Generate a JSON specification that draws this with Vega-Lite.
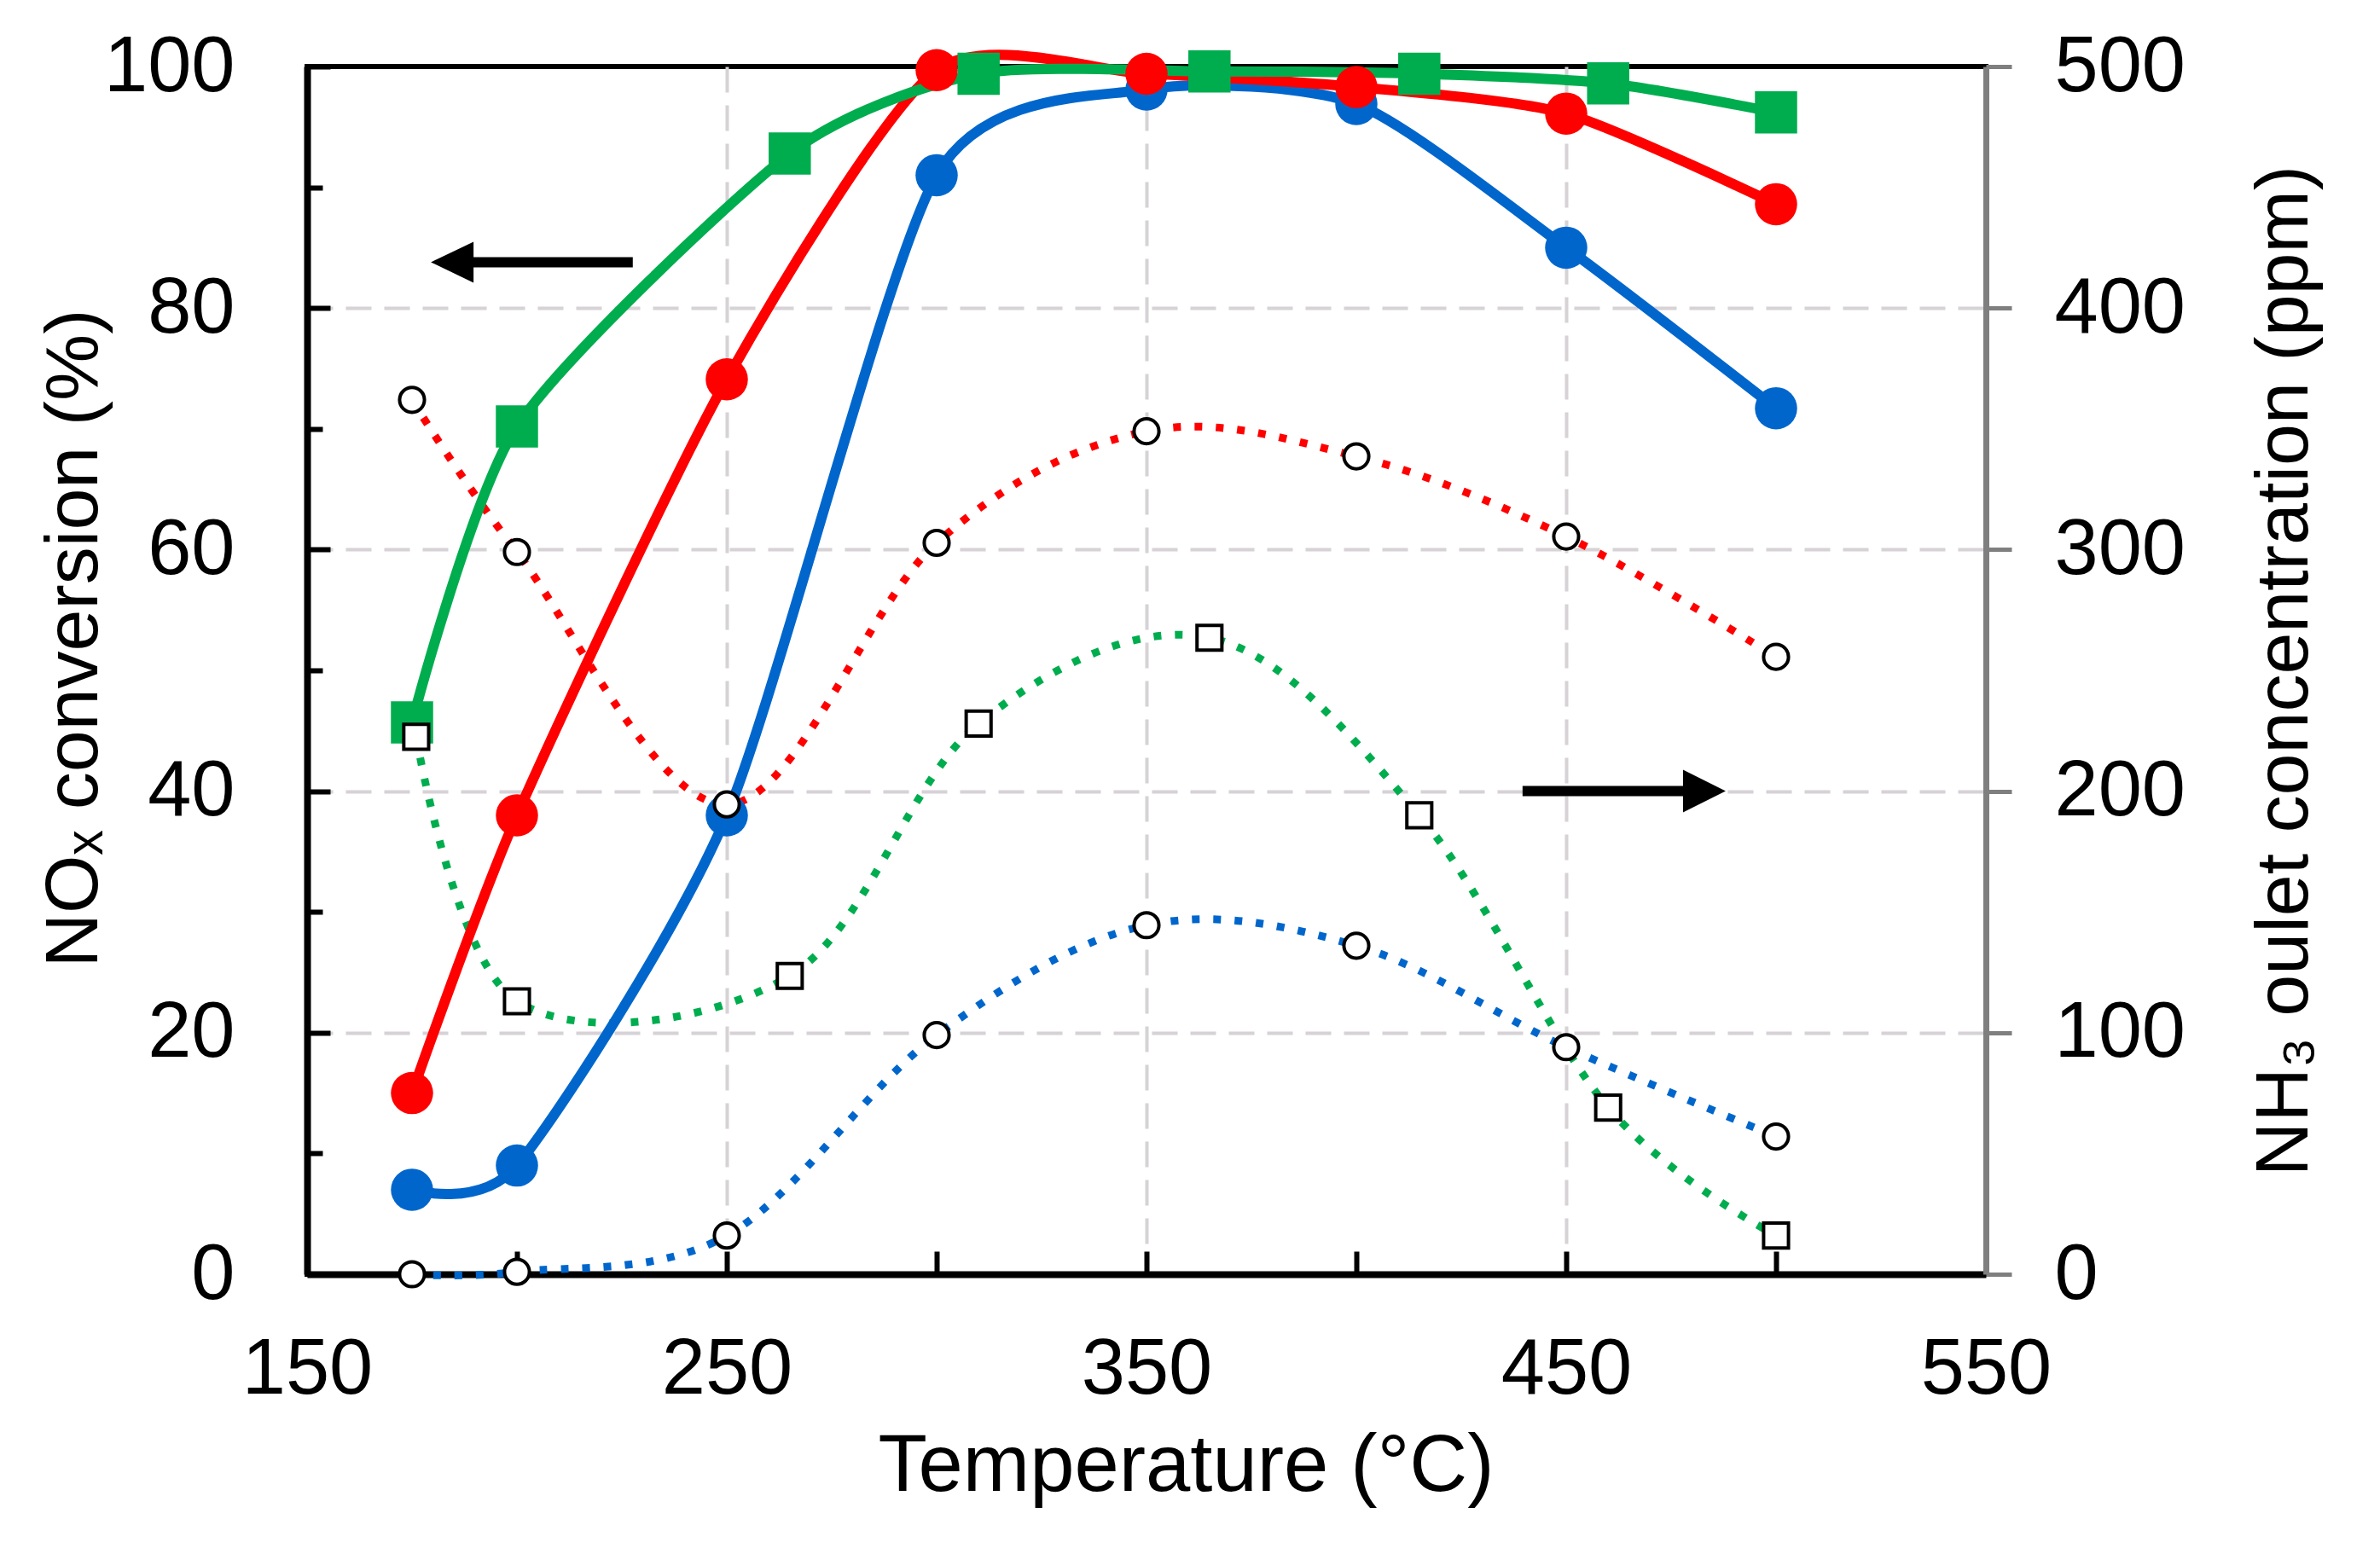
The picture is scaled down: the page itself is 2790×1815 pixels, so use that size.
{
  "$schema": "https://vega.github.io/schema/vega-lite/v6.json",
  "width": 1968,
  "height": 1416,
  "autosize": {"type": "none"},
  "padding": {"left": 360, "top": 78, "right": 462, "bottom": 321},
  "background": "white",
  "config": {
    "font": "Liberation Sans",
    "view": {"stroke": "black", "strokeWidth": 6},
    "axis": {
      "labelFont": "Liberation Sans",
      "titleFont": "Liberation Sans",
      "labelColor": "black",
      "titleColor": "black",
      "titleFontWeight": "normal",
      "labelOverlap": false,
      "labelFlush": false,
      "labelBound": false
    }
  },
  "datasets": {
    "conversion": [
      {"series": "s1", "T": 175, "v": 7},
      {"series": "s1", "T": 200, "v": 9},
      {"series": "s1", "T": 250, "v": 38},
      {"series": "s1", "T": 300, "v": 91},
      {"series": "s1", "T": 350, "v": 98.1},
      {"series": "s1", "T": 400, "v": 96.9},
      {"series": "s1", "T": 450, "v": 85},
      {"series": "s1", "T": 500, "v": 71.7},
      {"series": "s2", "T": 175, "v": 15},
      {"series": "s2", "T": 200, "v": 38},
      {"series": "s2", "T": 250, "v": 74.1},
      {"series": "s2", "T": 300, "v": 99.7},
      {"series": "s2", "T": 350, "v": 99.4},
      {"series": "s2", "T": 400, "v": 98.3},
      {"series": "s2", "T": 450, "v": 96.1},
      {"series": "s2", "T": 500, "v": 88.6},
      {"series": "s3", "T": 175, "v": 45.7},
      {"series": "s3", "T": 200, "v": 70.2},
      {"series": "s3", "T": 265, "v": 92.8},
      {"series": "s3", "T": 310, "v": 99.4},
      {"series": "s3", "T": 365, "v": 99.6},
      {"series": "s3", "T": 415, "v": 99.4},
      {"series": "s3", "T": 460, "v": 98.6},
      {"series": "s3", "T": 500, "v": 96.2}
    ],
    "ammonia": [
      {"series": "s1", "T": 175, "v": 0},
      {"series": "s1", "T": 200, "v": 1},
      {"series": "s1", "T": 250, "v": 16},
      {"series": "s1", "T": 300, "v": 99},
      {"series": "s1", "T": 350, "v": 144.5},
      {"series": "s1", "T": 400, "v": 136},
      {"series": "s1", "T": 450, "v": 94},
      {"series": "s1", "T": 500, "v": 57},
      {"series": "s2", "T": 175, "v": 362},
      {"series": "s2", "T": 200, "v": 299},
      {"series": "s2", "T": 250, "v": 194.5},
      {"series": "s2", "T": 300, "v": 302.8},
      {"series": "s2", "T": 350, "v": 349},
      {"series": "s2", "T": 400, "v": 338.6},
      {"series": "s2", "T": 450, "v": 305.4},
      {"series": "s2", "T": 500, "v": 255.6},
      {"series": "s3", "T": 176, "v": 222.5},
      {"series": "s3", "T": 200, "v": 113},
      {"series": "s3", "T": 265, "v": 123.5},
      {"series": "s3", "T": 310, "v": 228},
      {"series": "s3", "T": 365, "v": 263.5},
      {"series": "s3", "T": 415, "v": 190},
      {"series": "s3", "T": 460, "v": 69},
      {"series": "s3", "T": 500, "v": 16}
    ],
    "arrows": [
      {"T": 227.6, "T2": 188, "y": 83.8},
      {"T": 439.6, "T2": 479, "y": 40}
    ],
    "headLeft": [{"T": 179.5, "y": 83.8}],
    "headRight": [{"T": 488, "y": 40}]
  },
  "encoding": {
    "x": {
      "field": "T",
      "type": "quantitative",
      "scale": {"domain": [150, 550], "nice": false, "zero": false},
      "axis": {
        "values": [150, 200, 250, 300, 350, 400, 450, 500, 550],
        "labelExpr": "(datum.value - 150) % 100 == 0 ? datum.label : ''",
        "labelFontSize": 92,
        "labelPadding": 93,
        "tickSize": -27,
        "tickWidth": 6,
        "tickColor": "black",
        "domainColor": "black",
        "domainWidth": 8,
        "grid": true,
        "gridColor": "#d6d2d6",
        "gridWidth": 4,
        "gridDash": [30, 15],
        "gridOpacity": {"condition": {"test": "datum.value == 250 || datum.value == 350 || datum.value == 450", "value": 1}, "value": 0},
        "title": "Temperature (°C)",
        "titleFontSize": 94,
        "titleX": 1030,
        "titleY": 253,
        "titleAlign": "center",
        "titleBaseline": "alphabetic"
      }
    }
  },
  "resolve": {"scale": {"y": "independent", "size": "independent"}},
  "layer": [
    {
      "data": {"name": "ammonia"},
      "mark": {"type": "line", "interpolate": "cardinal", "strokeWidth": 9, "strokeDash": [9, 16], "strokeCap": "butt"},
      "encoding": {
        "y": {
          "field": "v",
          "type": "quantitative",
          "scale": {"domain": [0, 500], "nice": false},
          "axis": {
            "orient": "right",
            "values": [0, 100, 200, 300, 400, 500],
            "labelFontSize": 92,
            "labelPadding": 50,
            "tickSize": 30,
            "tickWidth": 5,
            "tickColor": "#7f7f7f",
            "domainColor": "#7f7f7f",
            "domainWidth": 7,
            "grid": false,
            "title": "NH₃ oulet concentration (ppm)",
            "titleFontSize": 88,
            "titleAngle": 270,
            "titleX": 376,
            "titleY": 708,
            "titleAlign": "center",
            "titleBaseline": "alphabetic"
          }
        },
        "color": {
          "field": "series",
          "type": "nominal",
          "scale": {"domain": ["s1", "s2", "s3"], "range": ["#0066cc", "#ff0000", "#00ad4e"]},
          "legend": null
        }
      }
    },
    {
      "data": {"name": "conversion"},
      "mark": {"type": "line", "interpolate": "cardinal", "tension": 0.3, "strokeWidth": 12},
      "encoding": {
        "y": {
          "field": "v",
          "type": "quantitative",
          "scale": {"domain": [0, 100], "nice": false},
          "axis": {
            "orient": "left",
            "values": [0, 10, 20, 30, 40, 50, 60, 70, 80, 90, 100],
            "labelExpr": "datum.value % 20 == 0 ? datum.label : ''",
            "labelFontSize": 92,
            "labelPadding": 112,
            "tickSize": {"condition": {"test": "datum.value % 20 == 0", "value": -27}, "value": -18},
            "tickWidth": 6,
            "tickColor": "black",
            "domainColor": "black",
            "domainWidth": 8,
            "grid": true,
            "gridColor": "#d6d2d6",
            "gridWidth": 4,
            "gridDash": [30, 15],
            "gridOpacity": {"condition": {"test": "datum.value % 20 == 0 && datum.value > 0 && datum.value < 100", "value": 1}, "value": 0},
            "title": "NOₓ conversion (%)",
            "titleFontSize": 88,
            "titleAngle": 270,
            "titleX": -247,
            "titleY": 670,
            "titleAlign": "center",
            "titleBaseline": "alphabetic"
          }
        },
        "color": {"field": "series", "type": "nominal", "legend": null}
      }
    },
    {
      "data": {"name": "conversion"},
      "mark": {"type": "point", "filled": true, "opacity": 1},
      "encoding": {
        "y": {"field": "v", "type": "quantitative", "scale": {"domain": [0, 100], "nice": false}, "axis": null},
        "color": {"field": "series", "type": "nominal", "legend": null},
        "shape": {
          "field": "series",
          "type": "nominal",
          "scale": {"domain": ["s1", "s2", "s3"], "range": ["circle", "circle", "square"]},
          "legend": null
        },
        "size": {
          "field": "series",
          "type": "nominal",
          "scale": {"domain": ["s1", "s2", "s3"], "range": [2450, 2450, 3200]},
          "legend": null
        }
      }
    },
    {
      "data": {"name": "ammonia"},
      "mark": {"type": "point", "filled": true, "fill": "white", "stroke": "black", "strokeWidth": 4, "opacity": 1},
      "encoding": {
        "y": {"field": "v", "type": "quantitative", "scale": {"domain": [0, 500], "nice": false}, "axis": null},
        "shape": {"field": "series", "type": "nominal", "legend": null},
        "size": {
          "field": "series",
          "type": "nominal",
          "scale": {"domain": ["s1", "s2", "s3"], "range": [850, 850, 1300]},
          "legend": null
        }
      }
    },
    {
      "data": {"name": "arrows"},
      "mark": {"type": "rule", "color": "black", "strokeWidth": 12},
      "encoding": {
        "x2": {"field": "T2"},
        "y": {"field": "y", "type": "quantitative", "scale": {"domain": [0, 100], "nice": false}, "axis": null}
      }
    },
    {
      "data": {"name": "headLeft"},
      "mark": {"type": "point", "filled": true, "color": "black", "opacity": 1, "size": 10000, "shape": "M0,0L1,-0.48L1,0.48Z"},
      "encoding": {
        "y": {"field": "y", "type": "quantitative", "scale": {"domain": [0, 100], "nice": false}, "axis": null}
      }
    },
    {
      "data": {"name": "headRight"},
      "mark": {"type": "point", "filled": true, "color": "black", "opacity": 1, "size": 10000, "shape": "M0,0L-1,-0.5L-1,0.5Z"},
      "encoding": {
        "y": {"field": "y", "type": "quantitative", "scale": {"domain": [0, 100], "nice": false}, "axis": null}
      }
    }
  ]
}
